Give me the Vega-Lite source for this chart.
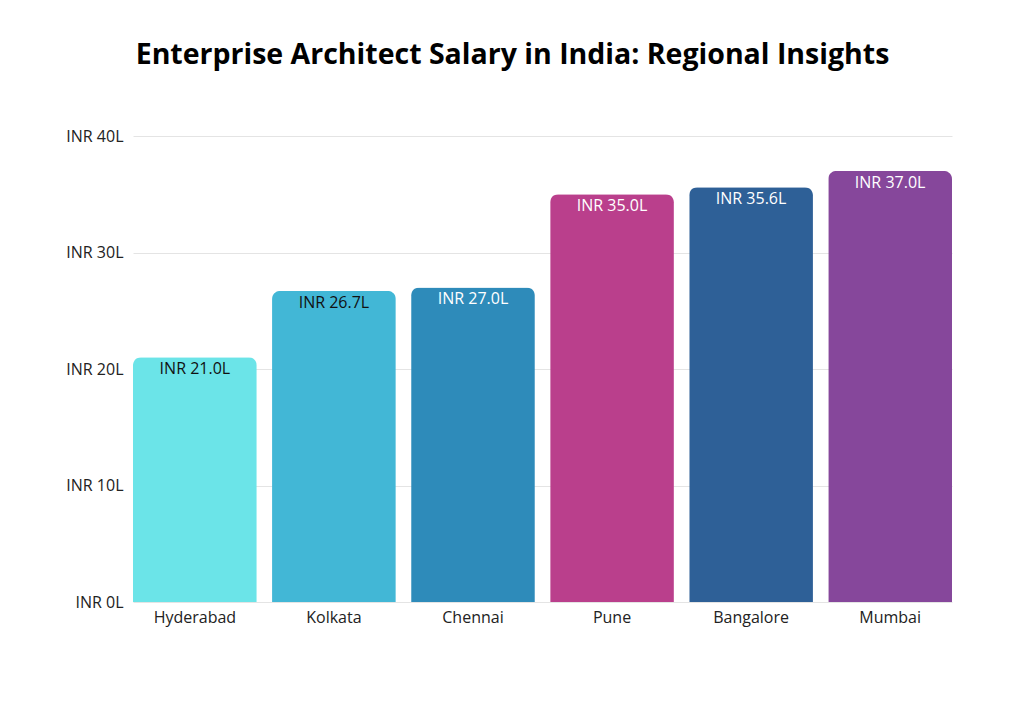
{
  "$schema": "https://vega.github.io/schema/vega-lite/v6.json",
  "autosize": {"type": "none"},
  "padding": {"left": 133, "top": 136, "right": 72, "bottom": 118},
  "width": 819,
  "height": 466,
  "background": "white",
  "config": {
    "view": {"stroke": null},
    "font": "Open Sans"
  },
  "title": {
    "text": "Enterprise Architect Salary in India: Regional Insights",
    "font": "Open Sans",
    "fontSize": 28.5,
    "fontWeight": "bold",
    "color": "#000000",
    "anchor": "middle",
    "dx": -30,
    "offset": 59
  },
  "data": {
    "values": [
      {"city": "Hyderabad", "salary": 21.0, "label": "INR 21.0L", "color": "#6BE4E8", "text": "#111111"},
      {"city": "Kolkata", "salary": 26.7, "label": "INR 26.7L", "color": "#42B7D6", "text": "#111111"},
      {"city": "Chennai", "salary": 27.0, "label": "INR 27.0L", "color": "#2E8BBA", "text": "#ffffff"},
      {"city": "Pune", "salary": 35.0, "label": "INR 35.0L", "color": "#BA3F8C", "text": "#ffffff"},
      {"city": "Bangalore", "salary": 35.6, "label": "INR 35.6L", "color": "#2E6097", "text": "#ffffff"},
      {"city": "Mumbai", "salary": 37.0, "label": "INR 37.0L", "color": "#86479B", "text": "#ffffff"}
    ]
  },
  "encoding": {
    "x": {
      "field": "city",
      "type": "nominal",
      "sort": null,
      "scale": {"paddingInner": 0.11, "paddingOuter": 0},
      "axis": {
        "title": null,
        "labelAngle": 0,
        "labelFontSize": 16,
        "labelColor": "#222222",
        "labelPadding": 7,
        "ticks": false,
        "domain": false
      }
    },
    "y": {
      "field": "salary",
      "type": "quantitative",
      "scale": {"domain": [0, 40]},
      "axis": {
        "title": null,
        "values": [0, 10, 20, 30, 40],
        "labelExpr": "'INR ' + datum.value + 'L'",
        "labelFontSize": 16,
        "labelColor": "#222222",
        "labelPadding": 10,
        "ticks": false,
        "domain": false,
        "gridColor": "#e4e4e4",
        "gridWidth": 1
      }
    }
  },
  "layer": [
    {
      "mark": {"type": "bar", "cornerRadiusTopLeft": 8, "cornerRadiusTopRight": 8},
      "encoding": {
        "color": {"field": "color", "type": "nominal", "scale": null}
      }
    },
    {
      "mark": {"type": "text", "baseline": "top", "dy": 4, "fontSize": 16},
      "encoding": {
        "text": {"field": "label"},
        "color": {"field": "text", "type": "nominal", "scale": null}
      }
    }
  ]
}
